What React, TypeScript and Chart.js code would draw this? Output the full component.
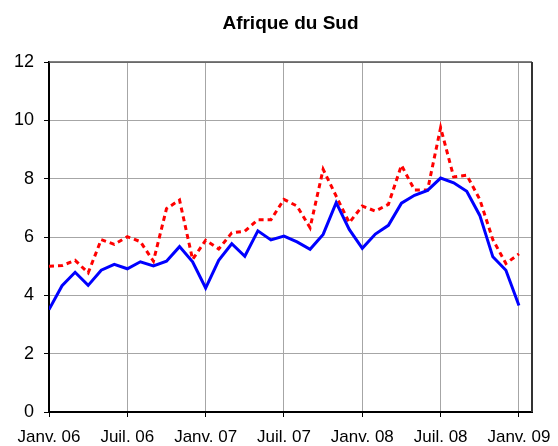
import React, { useEffect, useRef } from "react";
import { Chart, registerables } from "chart.js";

Chart.register(...registerables);

const title = "Afrique du Sud";
const tickPositions = [0, 6, 12, 18, 24, 30, 36];
const tickLabels = ["Janv. 06", "Juil. 06", "Janv. 07", "Juil. 07", "Janv. 08", "Juil. 08", "Janv. 09"];
const blueSeries = [3.51, 4.33, 4.79, 4.34, 4.86, 5.06, 4.91, 5.15, 5.01, 5.17, 5.67, 5.15, 4.25, 5.2, 5.77, 5.34, 6.21, 5.9, 6.03, 5.83, 5.58, 6.09, 7.18, 6.26, 5.61, 6.1, 6.4, 7.16, 7.43, 7.6, 8.02, 7.86, 7.57, 6.74, 5.32, 4.86, 3.65];
const redSeries = [5.0, 5.02, 5.2, 4.77, 5.91, 5.75, 6.01, 5.84, 5.17, 6.97, 7.27, 5.23, 5.89, 5.59, 6.14, 6.2, 6.59, 6.59, 7.29, 7.06, 6.32, 8.32, 7.4, 6.49, 7.06, 6.89, 7.12, 8.46, 7.61, 7.61, 9.75, 8.06, 8.12, 7.29, 5.91, 5.09, 5.42];

const FONT = "'Liberation Sans', Arial, Helvetica, sans-serif";

const framePlugin = {
  id: "frame",
  beforeDatasetsDraw(chart: any) {
    const { ctx, chartArea } = chart;
    ctx.save();
    ctx.strokeStyle = "#555555";
    ctx.lineWidth = 1.5;
    ctx.beginPath();
    ctx.moveTo(chartArea.left, chartArea.top);
    ctx.lineTo(chartArea.right, chartArea.top);
    ctx.stroke();
    ctx.strokeStyle = "#333333";
    ctx.lineWidth = 2;
    ctx.beginPath();
    ctx.moveTo(chartArea.right, chartArea.top);
    ctx.lineTo(chartArea.right, chartArea.bottom);
    ctx.stroke();
    ctx.restore();
  },
};

export default function App() {
  const ref = useRef<HTMLCanvasElement>(null);
  useEffect(() => {
    if (!ref.current) return;
    const chart = new Chart(ref.current, {
      type: "line",
      data: {
        datasets: [
          {
            label: "Série 1",
            data: blueSeries.map((v, i) => ({ x: i, y: v })),
            borderColor: "#0000FF",
            borderWidth: 3,
            pointRadius: 0,
            tension: 0,
            fill: false,
          },
          {
            label: "Série 2",
            data: redSeries.map((v, i) => ({ x: i, y: v })),
            borderColor: "#FF0000",
            borderWidth: 3,
            borderDash: [5, 4],
            pointRadius: 0,
            tension: 0,
            fill: false,
          },
        ],
      },
      options: {
        animation: false,
        responsive: false,
        devicePixelRatio: 1,
        layout: { padding: { left: 0, right: 26, top: 0, bottom: 0 } },
        plugins: {
          legend: { display: false },
          tooltip: { enabled: false },
          title: {
            display: true,
            text: title,
            fullSize: false,
            color: "#000",
            font: { family: FONT, size: 19, weight: "bold", lineHeight: 1 },
            padding: { top: 14, bottom: 29 },
          },
        },
        scales: {
          x: {
            type: "linear",
            min: 0,
            max: 37,
            afterBuildTicks: (scale: any) => {
              scale.ticks = tickPositions.map((v) => ({ value: v }));
            },
            afterFit: (scale: any) => {
              scale.height = 34;
              scale.paddingLeft = 0;
              scale.paddingRight = 0;
            },
            ticks: {
              autoSkip: false,
              maxRotation: 0,
              color: "#000",
              padding: 10,
              font: { family: FONT, size: 17 },
              callback: (v: any) => {
                const idx = tickPositions.indexOf(Number(v));
                return idx >= 0 ? tickLabels[idx] : "";
              },
            },
            grid: { color: "#a6a6a6", lineWidth: 1, tickColor: "#000", tickLength: 5 },
            border: { display: true, color: "#000", width: 2 },
          },
          y: {
            min: 0,
            max: 12,
            afterFit: (scale: any) => {
              scale.width = 49;
              scale.paddingTop = 0;
              scale.paddingBottom = 0;
            },
            ticks: {
              stepSize: 2,
              color: "#000",
              padding: 10,
              font: { family: FONT, size: 18 },
            },
            grid: { color: "#a6a6a6", lineWidth: 1, tickColor: "#000", tickLength: 5 },
            border: { display: true, color: "#000", width: 2 },
          },
        },
      },
      plugins: [framePlugin],
    } as any);
    return () => chart.destroy();
  }, []);
  return (
    <div style={{ position: "fixed", left: 0, top: 0, width: 558, height: 446, background: "#fff" }}>
      <canvas ref={ref} width={558} height={446} style={{ display: "block" }} />
    </div>
  );
}
